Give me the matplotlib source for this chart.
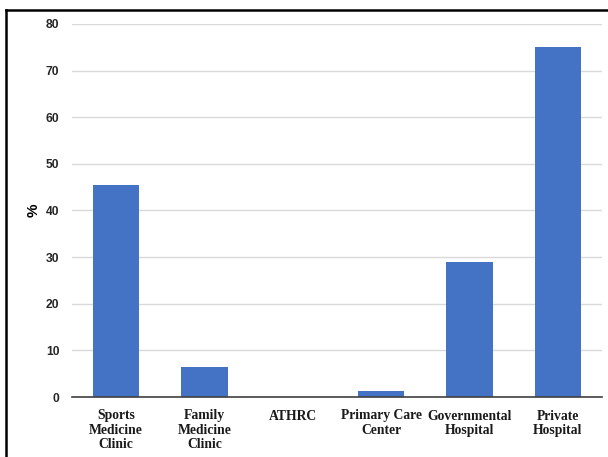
import matplotlib
matplotlib.use("Agg")
import matplotlib.pyplot as plt
from matplotlib import font_manager as fm
from matplotlib.lines import Line2D

categories = ["Sports\nMedicine\nClinic", "Family\nMedicine\nClinic", "ATHRC",
              "Primary Care\nCenter", "Governmental\nHospital", "Private\nHospital"]
values = [45.5, 6.5, 0.0, 1.3, 28.9, 75.0]
yticks = [0, 10, 20, 30, 40, 50, 60, 70, 80]


def font_file(name):
    for f in fm.fontManager.ttflist:
        if f.fname.endswith(name):
            return fm.FontProperties(fname=f.fname)
    return None


sans_bold = font_file("LiberationSans-Bold.ttf") or fm.FontProperties(family="DejaVu Sans", weight="bold")
serif_bold = font_file("LiberationSerif-Bold.ttf") or fm.FontProperties(family="DejaVu Serif", weight="bold")

W, H = 608, 457
fig = plt.figure(figsize=(W / 100, H / 100), dpi=100)
ax = fig.add_axes([72 / W, 1 - 397 / H, (602 - 72) / W, (397 - 24) / H])

x = list(range(len(categories)))
ax.bar(x, values, width=0.525, color="#4472C4", zorder=3)

ax.set_xlim(-0.5, len(categories) - 0.5)
ax.set_ylim(0, 80)
ax.set_yticks(yticks)
ax.set_yticklabels([str(v) for v in yticks], color="#262626")
for t in ax.get_yticklabels():
    t.set_fontproperties(sans_bold)
    t.set_fontsize(8.7)
ax.set_xticks(x)
ax.set_xticklabels(categories, linespacing=1.12, color="#1a1a1a")
for t in ax.get_xticklabels():
    t.set_fontproperties(serif_bold)
    t.set_fontsize(9.8)
ax.tick_params(axis="both", length=0)
ax.tick_params(axis="y", pad=9)
ax.tick_params(axis="x", pad=9)

ax.grid(axis="y", color="#d9d9d9", linewidth=1.0, zorder=0)
for side in ("top", "right", "left"):
    ax.spines[side].set_visible(False)
ax.spines["bottom"].set_color("#404040")
ax.spines["bottom"].set_linewidth(1.2)
ax.spines["bottom"].set_zorder(4)

ylab = ax.set_ylabel("%", labelpad=4)
ylab.set_fontproperties(sans_bold)
ylab.set_fontsize(11)

# Outer frame on the left and top edges of the figure
fig.add_artist(Line2D([5.5 / W, 5.5 / W], [0, 1 - 10 / H], transform=fig.transFigure,
                      color="black", linewidth=1.8))
fig.add_artist(Line2D([5.5 / W, 1], [1 - 10 / H, 1 - 10 / H], transform=fig.transFigure,
                      color="black", linewidth=1.8))

fig.savefig("out.png", dpi=100)
